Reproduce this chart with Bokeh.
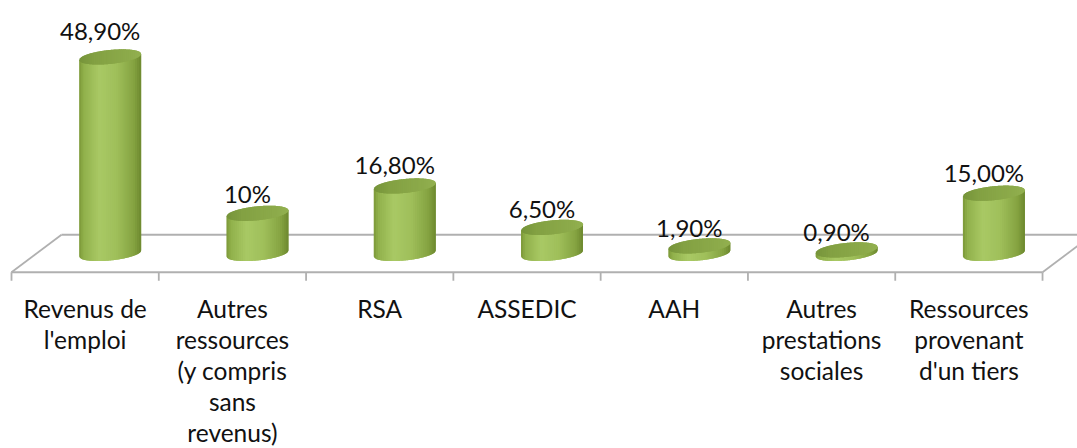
import numpy as np
from bokeh.plotting import figure
from bokeh.models import Range1d
from bokeh.core.properties import value
from bokeh.embed import file_html
from bokeh.resources import INLINE

# ---- data -------------------------------------------------------------
categories = [
    "Revenus de\nl'emploi",
    "Autres\nressources\n(y compris\nsans\nrevenus)",
    "RSA",
    "ASSEDIC",
    "AAH",
    "Autres\nprestations\nsociales",
    "Ressources\nprovenant\nd'un tiers",
]
shares = [48.9, 10.0, 16.8, 6.5, 1.9, 0.9, 15.0]
share_labels = ["48,90%", "10%", "16,80%", "6,50%", "1,90%", "0,90%", "15,00%"]

# ---- layout (pixels per data unit) ----------------------------------
W, H = 1077, 448
SX = 147.29          # px per category slot
SY = 4.02            # px per percentage point
X0_PX = 11           # left front corner of the floor
BASE_PX = 253        # vertical position of the zero line (floor middle)

DEPTH_X = 50 / SX    # oblique depth of the floor
DEPTH_Y = 37.5 / SY
A = 31 / SX          # cylinder half width
B = 7 / SY           # cylinder cap half height
SHEAR = (3 / SY) / A # slight tilt of the elliptical caps

FONT = value("Lato")
TXT = "#111111"

p = figure(
    width=W, height=H,
    x_range=Range1d(-X0_PX / SX, (W - X0_PX) / SX),
    y_range=Range1d((BASE_PX - H) / SY, BASE_PX / SY),
    x_axis_type=None, y_axis_type=None,
    output_backend="svg", toolbar_location=None,
    min_border=0, outline_line_color=None,
    background_fill_color="white", border_fill_color="white",
)
p.grid.visible = False

n = len(categories)
front_y = -DEPTH_Y / 2
back_y = DEPTH_Y / 2

# ---- floor --------------------------------------------------------------
floor_col = "#b0b0b0"
p.segment(
    x0=[0, DEPTH_X, 0, n],
    y0=[front_y, back_y, front_y, front_y],
    x1=[n, n + DEPTH_X, DEPTH_X, n + DEPTH_X],
    y1=[front_y, back_y, back_y, back_y],
    line_color=floor_col, line_width=1.8,
)
ticks = np.arange(n + 1)
p.segment(x0=ticks, y0=[front_y] * (n + 1), x1=ticks,
          y1=[front_y - 8.5 / SY] * (n + 1),
          line_color=floor_col, line_width=1.8)

# ---- cylinders ----------------------------------------------------------
def ramp(u, stops, colors):
    rgb = np.array([[int(c[i:i + 2], 16) for i in (1, 3, 5)] for c in colors], float)
    r, g, b = (np.interp(u, stops, rgb[:, k]) for k in range(3))
    return "#%02x%02x%02x" % (int(r), int(g), int(b))

body_stops = [-1, -0.85, -0.35, 0.2, 0.75, 1]
body_cols = ["#7b9838", "#92b24c", "#a9c965", "#a0c05b", "#86a442", "#6d892f"]
cap_stops = [-1, -0.5, 0.5, 1]
cap_cols = ["#76943a", "#83a143", "#8caa4a", "#93b150"]

centers = np.arange(n) + 0.5 + DEPTH_X / 2
N = 30
edges = np.linspace(-1, 1, N + 1)

bx, by, bc = [], [], []
cx_, cy_, cc = [], [], []
for c, v in zip(centers, shares):
    for j in range(N):
        # each slice reaches into the next one so no seams show
        u_end = edges[min(j + 2, N)]
        us = np.linspace(edges[j], u_end, 6)
        xs = c + A * us
        tilt = SHEAR * A * us
        half = B * np.sqrt(np.clip(1 - us ** 2, 0, None))
        top = v + tilt
        bot = -half + tilt
        mid = (edges[j] + edges[j + 1]) / 2
        bx.append(list(xs) + list(xs[::-1]))
        by.append(list(top) + list(bot[::-1]))
        bc.append(ramp(mid, body_stops, body_cols))
        cx_.append(list(xs) + list(xs[::-1]))
        cy_.append(list(v + half + tilt) + list((v - half + tilt)[::-1]))
        cc.append(ramp(mid, cap_stops, cap_cols))

p.patches(bx, by, fill_color=bc, line_color=None)
p.patches(cx_, cy_, fill_color=cc, line_color=None)

# ---- value labels ---------------------------------------------------------
lab_x = centers - 10 / SX
lab_y = [v + (18 + 0.045 * v * SY) / SY for v in shares]
p.text(x=lab_x, y=lab_y, text=share_labels, text_font=FONT,
       text_font_size=value("24px"), text_align="center",
       text_baseline="middle", text_color=TXT)

# ---- category labels ------------------------------------------------------
p.text(x=np.arange(n) + 0.5, y=[front_y - 22 / SY] * n, text=categories,
       text_font=FONT, text_font_size=value("24.5px"), text_align="center",
       text_baseline="top", text_line_height=1.07, text_color=TXT)

open("out.html", "w").write(file_html(p, INLINE))
